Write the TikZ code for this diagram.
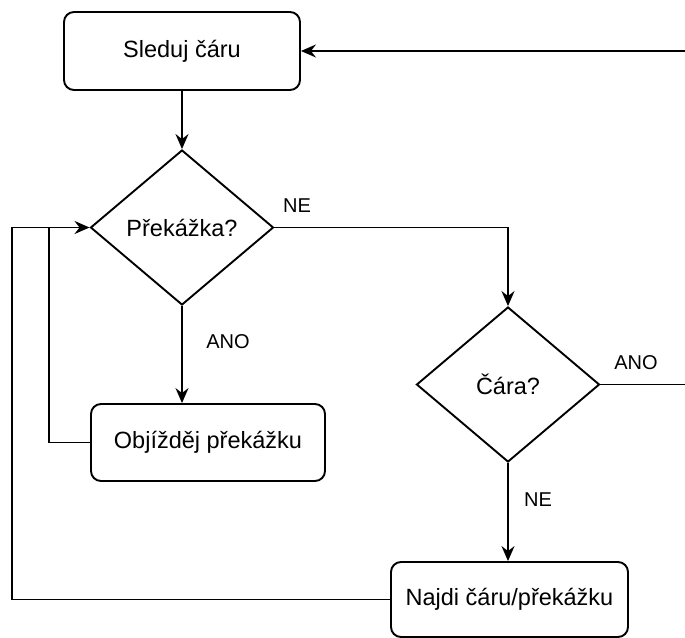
\documentclass[tikz,border=0pt]{standalone}
\usepackage{fontspec}
\setmainfont{Liberation Sans}
\usetikzlibrary{shapes.geometric,arrows.meta}
\begin{document}
\begin{tikzpicture}[x=1pt,y=-1pt,
  every node/.style={font=\fontsize{23.5}{28}\selectfont},
  procbox/.style={draw,line width=1.9pt,rounded corners=10pt,inner sep=0pt},
  decis/.style={draw,line width=1.9pt,diamond,inner sep=0pt,minimum width=183pt,minimum height=155pt},
  conn/.style={line width=1.9pt},
  arr/.style={conn,-{Stealth[length=15pt,width=13pt,inset=5pt]}},
  lbl/.style={font=\fontsize{20}{24}\selectfont}]
\clip (0,0) rectangle (685,637);
\node[procbox,minimum width=236pt,minimum height=78pt] (sled) at (182,51) {Sleduj čáru};
\node[decis] (d1) at (182,227.5) {Překážka?};
\node[decis] (d2) at (508,384.5) {Čára?};
\node[procbox,minimum width=234pt,minimum height=77pt] (obj) at (208,442.5) {Objížděj překážku};
\node[procbox,minimum width=237pt,minimum height=75pt] (najdi) at (509.5,599.5) {Najdi čáru/překážku};
\coordinate (redge) at (688,384.5);
\coordinate (lin) at (49,227.5);
\coordinate (lout) at (12,227.5);
\draw[arr] (sled.south) -- (d1.north);
\draw[arr] (d1.east) -| (d2.north);
\draw[arr] (d2.east) -- (redge) |- (sled.east);
\draw[arr] (d1.south) -- (d1.south |- obj.north);
\draw[arr] (obj.west) -| (lin) -- (d1.west);
\draw[conn] (najdi.west) -| (lout) -- (lin);
\draw[arr] (d2.south) -- (d2.south |- najdi.north);
\node[lbl] (ne1) at (297,206) {NE};
\node[lbl] (ano1) at (228,342) {ANO};
\node[lbl] (ano2) at (636,363) {ANO};
\node[lbl] (ne2) at (538,500) {NE};
\end{tikzpicture}
\end{document}
